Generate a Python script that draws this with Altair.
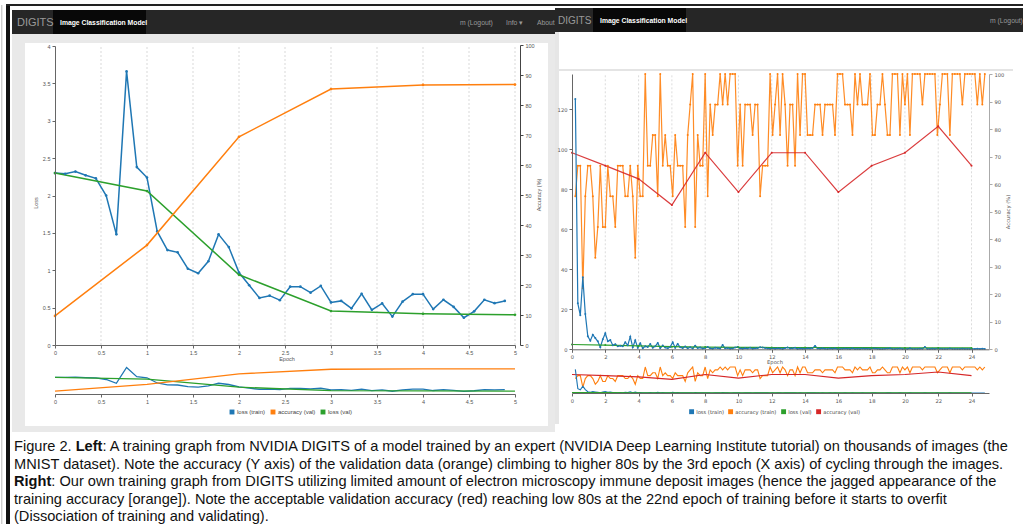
import altair as alt
import pandas as pd

# ---------------- data ----------------
left_train_epoch = [0, 0.111, 0.222, 0.333, 0.444, 0.556, 0.667, 0.778, 0.889, 1.0,
                    1.111, 1.222, 1.333, 1.444, 1.556, 1.667, 1.778, 1.889, 2.0, 2.111,
                    2.222, 2.333, 2.444, 2.556, 2.667, 2.778, 2.889, 3.0, 3.111, 3.222,
                    3.333, 3.444, 3.556, 3.667, 3.778, 3.889, 4.0, 4.111, 4.222, 4.333,
                    4.444, 4.556, 4.667, 4.778, 4.889]
left_train_loss = [2.30, 2.29, 2.32, 2.27, 2.23, 2.00, 1.48, 3.66, 2.38, 2.24,
                   1.52, 1.27, 1.24, 1.02, 0.96, 1.12, 1.48, 1.31, 0.97, 0.80,
                   0.63, 0.66, 0.60, 0.78, 0.78, 0.70, 0.79, 0.57, 0.59, 0.49,
                   0.685, 0.47, 0.556, 0.38, 0.58, 0.68, 0.68, 0.48, 0.605, 0.51,
                   0.365, 0.45, 0.605, 0.56, 0.59]
left_val_epoch = [0, 1, 2, 3, 4, 5]
left_val_loss = [2.30, 2.06, 0.94, 0.455, 0.418, 0.405]
left_val_acc = [9.7, 33.3, 69.4, 85.3, 86.7, 86.8]
left_ticks = [0, 0.5, 1, 1.5, 2, 2.5, 3, 3.5, 4, 4.5, 5]
left_loss_ticks = [0, 0.5, 1, 1.5, 2, 2.5, 3, 3.5, 4]
acc_ticks = [0, 10, 20, 30, 40, 50, 60, 70, 80, 90, 100]
left_series = ["loss (train)", "accuracy (val)", "loss (val)"]

right_train_acc = [
    55.6, 66.7, 66.7, 22.2, 55.6, 66.7, 66.7, 55.6, 33.3, 44.4,
    66.7, 44.4, 44.4, 66.7, 55.6, 55.6, 44.4, 66.7, 66.7, 66.7,
    55.6, 55.6, 66.7, 55.6, 33.3, 66.7, 55.6, 55.6, 100, 66.7,
    66.7, 77.8, 77.8, 55.6, 100, 66.7, 77.8, 66.7, 66.7, 55.6,
    77.8, 66.7, 66.7, 66.7, 44.4, 77.8, 88.9, 100, 44.4, 77.8,
    66.7, 66.7, 100, 55.6, 88.9, 77.8, 88.9, 88.9, 100, 88.9,
    100, 88.9, 100, 100, 100, 66.7, 88.9, 66.7, 88.9, 88.9,
    88.9, 77.8, 88.9, 88.9, 55.6, 66.7, 66.7, 66.7, 100, 77.8,
    88.9, 100, 77.8, 100, 88.9, 66.7, 88.9, 88.9, 66.7, 100,
    77.8, 100, 100, 77.8, 77.8, 77.8, 88.9, 88.9, 88.9, 77.8,
    88.9, 88.9, 88.9, 88.9, 77.8, 100, 100, 100, 88.9, 88.9,
    88.9, 77.8, 100, 88.9, 100, 88.9, 88.9, 88.9, 100, 77.8,
    77.8, 88.9, 88.9, 100, 88.9, 77.8, 77.8, 100, 100, 100,
    77.8, 100, 88.9, 100, 77.8, 100, 100, 100, 100, 88.9,
    100, 100, 100, 100, 100, 77.8, 88.9, 100, 100, 100,
    77.8, 100, 100, 100, 100, 88.9, 100, 100, 100, 100,
    100, 88.9, 100, 88.9, 100]
right_train_loss = [
    125.2, 23, 17, 36, 17.6, 6.5, 4.3, 7.3, 5.6, 4.0,
    1.0, 5.0, 8.0, 4.0, 4.6, 2.0, 2.5, 1.5, 1.8, 1.5,
    3.5, 2.0, 6.3, 1.0, 4.5, 0.8, 3.0, 0.5, 1.5, 1.2,
    2.6, 0.8, 1.5, 3.2, 0.6, 1.9, 0.9, 0.5, 1.2, 3.5,
    0.8, 2.7, 1.0, 0.6, 1.4, 0.5, 1.0, 0.4, 1.8, 0.6,
    0.9, 0.4, 0.7, 1.2, 0.5, 0.3, 0.8, 0.6, 0.4, 2.1,
    0.5, 0.7, 0.3, 0.4, 0.9, 1.1, 0.5, 0.3, 0.6, 0.4,
    0.8, 0.3, 0.5, 0.6, 1.0, 0.9, 0.7, 0.4, 0.3, 0.6,
    0.3, 0.5, 0.4, 0.2, 0.6, 0.9, 0.4, 0.5, 0.8, 0.2,
    0.4, 0.3, 0.3, 0.5, 0.4, 0.6, 1.7, 0.4, 0.3, 0.5,
    0.3, 0.2, 0.4, 0.3, 0.5, 0.2, 0.2, 0.3, 0.4, 0.3,
    0.2, 0.5, 0.2, 0.3, 0.2, 0.4, 0.3, 0.3, 0.2, 0.5,
    0.4, 0.3, 0.2, 0.2, 0.3, 0.4, 0.5, 0.2, 0.2, 0.3,
    0.4, 0.2, 0.3, 0.2, 0.5, 0.2, 0.2, 0.2, 0.3, 0.3,
    1.2, 0.2, 0.2, 0.3, 0.2, 0.4, 0.3, 0.2, 0.2, 0.2,
    0.4, 0.2, 0.2, 0.2, 0.2, 0.3, 0.2, 0.2, 0.2, 0.2,
    0.2, 0.3, 0.2, 0.3, 0.2]
# training values were logged every 0.15 epoch starting at epoch 0.2
right_train_epoch = [round(0.2 + 0.15 * i, 3) for i in range(len(right_train_acc))]
right_val_epoch = [0, 2, 4, 6, 8, 10, 12, 14, 16, 18, 20, 22, 24]
right_val_loss = [2.4, 2.1, 1.7, 1.3, 1.1, 1.0, 0.9, 0.9, 0.8, 0.8, 0.7, 0.7, 0.7]
right_val_acc = [71.4, 66.7, 61.9, 52.4, 71.4, 57.1, 71.4, 71.4, 57.1, 66.7, 71.4, 81.0, 66.7]
right_ticks = [0, 2, 4, 6, 8, 10, 12, 14, 16, 18, 20, 22, 24]
right_loss_ticks = [0, 20, 40, 60, 80, 100, 120]
right_series = ["loss (train)", "accuracy (train)", "loss (val)", "accuracy (val)"]

caption = [
    ["Figure 2. ", "Left", ": A training graph from NVIDIA DIGITS of a model trained by an expert (NVIDIA Deep Learning Institute tutorial) on thousands of images (the"],
    ["MNIST dataset). Note the accuracy (Y axis) of the validation data (orange) climbing to higher 80s by the 3rd epoch (X axis) of cycling through the images."],
    ["", "Right", ": Our own training graph from DIGITS utilizing limited amount of electron microscopy immune deposit images (hence the jagged appearance of the"],
    ["training accuracy [orange]). Note the acceptable validation accuracy (red) reaching low 80s at the 22nd epoch of training before it starts to overfit"],
    ["(Dissociation of training and validating)."],
]

BLUE, ORANGE, GREEN, RED = "#1f77b4", "#ff7f0e", "#2ca02c", "#d62728"
W, H = 1023, 524
LF = "Liberation Sans"
RF = "DejaVu Sans"

# ---------------- tables ----------------
lt = pd.DataFrame({"epoch": left_train_epoch, "loss": left_train_loss, "series": "loss (train)"})
lvl = pd.DataFrame({"epoch": left_val_epoch, "loss": left_val_loss, "series": "loss (val)"})
lva = pd.DataFrame({"epoch": left_val_epoch, "acc": left_val_acc, "series": "accuracy (val)"})
lloss = pd.concat([lt, lvl])
lgrid = pd.DataFrame({"g": left_ticks[1:]})

rt_loss = pd.DataFrame({"epoch": right_train_epoch, "loss": right_train_loss, "series": "loss (train)"})
rt_acc = pd.DataFrame({"epoch": right_train_epoch, "acc": right_train_acc, "series": "accuracy (train)"})
rv_loss = pd.DataFrame({"epoch": right_val_epoch, "loss": right_val_loss, "series": "loss (val)"})
rv_acc = pd.DataFrame({"epoch": right_val_epoch, "acc": right_val_acc, "series": "accuracy (val)"})
rloss = pd.concat([rt_loss, rv_loss])
racc = pd.concat([rt_acc, rv_acc])
rgrid = pd.DataFrame({"g": right_ticks[1:]})

one = pd.DataFrame({"k": [0]})

# ---------------- scales ----------------
LX = alt.Scale(domain=[0, 5], range=[55, 515], nice=False, zero=False)
LYL = alt.Scale(domain=[0, 4], range=[345, 46], nice=False, zero=False)
LYA = alt.Scale(domain=[0, 100], range=[345, 45], nice=False, zero=False)
LMYL = alt.Scale(domain=[0, 4], range=[394, 365], nice=False, zero=False)
LMYA = alt.Scale(domain=[0, 100], range=[394, 365], nice=False, zero=False)

RX = alt.Scale(domain=[0, 25.05], range=[572, 989], nice=False, zero=False)
RYL = alt.Scale(domain=[0, 137.7], range=[349.3, 74], nice=False, zero=False)
RYA = alt.Scale(domain=[0, 100], range=[349.3, 74], nice=False, zero=False)
RMYL = alt.Scale(domain=[0, 137.7], range=[393, 367], nice=False, zero=False)
RMYA = alt.Scale(domain=[0, 100], range=[393, 367], nice=False, zero=False)

LCOL = alt.Scale(domain=left_series, range=[BLUE, ORANGE, GREEN])
RCOL = alt.Scale(domain=right_series, range=[BLUE, ORANGE, GREEN, RED])


def axis(orient, pos, values, font, size, dom="#666", **kw):
    off = pos - (H if orient == "bottom" else W) if orient in ("bottom", "right") else -pos
    return alt.Axis(orient=orient, offset=off, values=values, format="~r", title=None, grid=False,
                    labelFont=font, labelFontSize=size, labelColor="#555", domainColor=dom,
                    tickColor=dom, tickSize=3, labelPadding=2, labelFlush=False,
                    labelOverlap=False, zindex=2, **kw)


def box(x, x2, y, y2, color):
    return alt.Chart(one).mark_rect(color=color).encode(
        x=alt.value(x), x2=alt.value(x2), y=alt.value(y), y2=alt.value(y2))


def label(txt, x, y, size, color="#000", font=LF, weight="normal", align="left", angle=0):
    return alt.Chart(one).mark_text(text=txt, fontSize=size, color=color, font=font,
                                    fontWeight=weight, align=align, angle=angle,
                                    baseline="alphabetic").encode(x=alt.value(x), y=alt.value(y))


layers = []

# ---------------- frames / screenshot chrome ----------------
layers += [
    box(1.3, 2.3, 5, 524, "#b8b8b8"),
    box(6, 10, 4, 524, "#111111"),
    box(6, 1023, 4, 6, "#222222"),
    # left screenshot
    box(10, 557, 6, 10, "#ffffff"),
    box(12, 557, 10, 34, "#262626"),
    box(53, 146, 10, 34, "#080808"),
    box(12, 557, 34, 432, "#e9e9e9"),
    box(25, 548, 43, 426, "#ffffff"),
    label("DIGITS", 17, 26, 11, "#9a9a9a"),
    label("Image Classification Model", 60, 25, 6.8, "#ffffff", weight="bold"),
    label("m (Logout)", 460, 25, 6.8, "#9a9a9a"),
    label("Info ▾", 506, 25, 6.8, "#9a9a9a"),
    label("About", 537, 25, 6.8, "#9a9a9a"),
    # right screenshot
    box(555, 1023, 6, 436, "#ffffff"),
    box(555, 1023, 8, 32, "#262626"),
    box(593, 686, 8, 32, "#080808"),
    box(555, 559, 32, 424, "#e6e6e6"),
    box(559, 1013, 69, 71, "#e4e4e4"),
    label("DIGITS", 558, 24, 10, "#9a9a9a"),
    label("Image Classification Model", 600, 23, 6.8, "#ffffff", weight="bold"),
    label("m (Logout)", 990, 23, 6.8, "#9a9a9a"),
]

# ---------------- left chart ----------------
layers += [
    alt.Chart(lgrid).mark_rule(color="#cfcfcf", strokeDash=[2, 2], strokeWidth=0.8).encode(
        x=alt.X("g:Q", scale=LX, axis=None),
        y=alt.Y(datum=0, scale=LYL, axis=None), y2=alt.datum(4)),
    alt.Chart(lloss).mark_line(strokeWidth=1.5).encode(
        x=alt.X("epoch:Q", scale=LX, axis=axis("bottom", 345, left_ticks, LF, 5.5)),
        y=alt.Y("loss:Q", scale=LYL, axis=axis("left", 55, left_loss_ticks, LF, 5.5)),
        color=alt.Color("series:N", scale=LCOL, legend=None), detail="series:N"),
    alt.Chart(lloss).mark_circle(size=7, opacity=1).encode(
        x=alt.X("epoch:Q", scale=LX, axis=None),
        y=alt.Y("loss:Q", scale=LYL, axis=None),
        color=alt.Color("series:N", scale=LCOL, legend=alt.Legend(
            orient="none", legendX=229, legendY=409, direction="horizontal", title=None,
            symbolType="square", symbolSize=24, labelFontSize=6, labelFont=LF,
            labelColor="#444", columnPadding=4, labelOffset=2, symbolStrokeWidth=0))),
    alt.Chart(lva).mark_line(strokeWidth=1.5, color=ORANGE).encode(
        x=alt.X("epoch:Q", scale=LX, axis=None),
        y=alt.Y("acc:Q", scale=LYA, axis=axis("right", 520, acc_ticks, LF, 5.5, dom="#444"))),
    alt.Chart(lva).mark_circle(size=7, opacity=1, color=ORANGE).encode(
        x=alt.X("epoch:Q", scale=LX, axis=None),
        y=alt.Y("acc:Q", scale=LYA, axis=None)),
    # mini overview
    alt.Chart(lloss).mark_line(strokeWidth=1.3).encode(
        x=alt.X("epoch:Q", scale=LX, axis=axis("bottom", 394, left_ticks, LF, 5.5)),
        y=alt.Y("loss:Q", scale=LMYL, axis=None),
        color=alt.Color("series:N", scale=LCOL, legend=None), detail="series:N"),
    alt.Chart(lva).mark_line(strokeWidth=1.3, color=ORANGE).encode(
        x=alt.X("epoch:Q", scale=LX, axis=None),
        y=alt.Y("acc:Q", scale=LMYA, axis=None)),
    label("Epoch", 287, 361, 5.5, "#555", align="center"),
    label("Loss", 38, 203, 5.5, "#555", align="center", angle=270),
    label("Accuracy (%)", 541, 195, 5.5, "#555", align="center", angle=270),
]

# ---------------- right chart ----------------
layers += [
    alt.Chart(rgrid).mark_rule(color="#d2d2d2", strokeDash=[2, 2], strokeWidth=0.8).encode(
        x=alt.X("g:Q", scale=RX, axis=None),
        y=alt.Y(datum=0, scale=RYL, axis=None), y2=alt.datum(137.7)),
    alt.Chart(racc).mark_line(strokeWidth=1.2, opacity=0.9).encode(
        x=alt.X("epoch:Q", scale=RX, axis=axis("bottom", 349.3, right_ticks, RF, 5.2)),
        y=alt.Y("acc:Q", scale=RYA, axis=axis("right", 989, acc_ticks, RF, 5.2, dom="#aaaaaa")),
        color=alt.Color("series:N", scale=RCOL, legend=None), detail="series:N"),
    alt.Chart(racc).mark_circle(size=4, opacity=1).encode(
        x=alt.X("epoch:Q", scale=RX, axis=None),
        y=alt.Y("acc:Q", scale=RYA, axis=None),
        color=alt.Color("series:N", scale=RCOL, legend=None)),
    alt.Chart(rloss).mark_line(strokeWidth=1.2).encode(
        x=alt.X("epoch:Q", scale=RX, axis=None),
        y=alt.Y("loss:Q", scale=RYL, axis=axis("left", 572, right_loss_ticks, RF, 5.2)),
        color=alt.Color("series:N", scale=RCOL, legend=None), detail="series:N"),
    alt.Chart(rloss).mark_circle(size=4, opacity=1).encode(
        x=alt.X("epoch:Q", scale=RX, axis=None),
        y=alt.Y("loss:Q", scale=RYL, axis=None),
        color=alt.Color("series:N", scale=RCOL, legend=alt.Legend(
            orient="none", legendX=689, legendY=409, direction="horizontal", title=None,
            symbolType="square", symbolSize=24, labelFontSize=5.2, labelFont=RF,
            labelColor="#444", columnPadding=4, labelOffset=2, symbolStrokeWidth=0))),
    # mini overview
    alt.Chart(racc).mark_line(strokeWidth=1.1).encode(
        x=alt.X("epoch:Q", scale=RX, axis=axis("bottom", 393, right_ticks, RF, 5.2)),
        y=alt.Y("acc:Q", scale=RMYA, axis=None),
        color=alt.Color("series:N", scale=RCOL, legend=None), detail="series:N"),
    alt.Chart(rloss).mark_line(strokeWidth=1.1).encode(
        x=alt.X("epoch:Q", scale=RX, axis=None),
        y=alt.Y("loss:Q", scale=RMYL, axis=None),
        color=alt.Color("series:N", scale=RCOL, legend=None), detail="series:N"),
    label("Epoch", 775, 364, 5.2, "#555", font=RF, align="center"),
    label("Accuracy (%)", 1010, 212, 5.2, "#555", font=RF, align="center", angle=270),
]

# ---------------- caption ----------------
CF = "Liberation Sans"
CS = 14.6
cap_y = [451, 469, 486, 504, 521]
layers += [
    label(caption[0][0], 14, cap_y[0], CS, "#111", font=CF),
    label(caption[0][1], 75.7, cap_y[0], CS, "#111", font=CF, weight="bold"),
    label(caption[0][2], 102.5, cap_y[0], CS, "#111", font=CF),
    label(caption[1][0], 14, cap_y[1], CS, "#111", font=CF),
    label(caption[2][1], 14, cap_y[2], CS, "#111", font=CF, weight="bold"),
    label(caption[2][2], 51.3, cap_y[2], CS, "#111", font=CF),
    label(caption[3][0], 14, cap_y[3], CS, "#111", font=CF),
    label(caption[4][0], 14, cap_y[4], CS, "#111", font=CF),
]

chart = alt.layer(*layers).resolve_scale(
    x="independent", y="independent", color="independent"
).properties(
    width=W, height=H, padding=0, autosize=alt.AutoSizeParams(type="none"), background="white"
).configure_view(stroke=None)

chart.save("out.html", embed_options={"renderer": "svg", "actions": False})
